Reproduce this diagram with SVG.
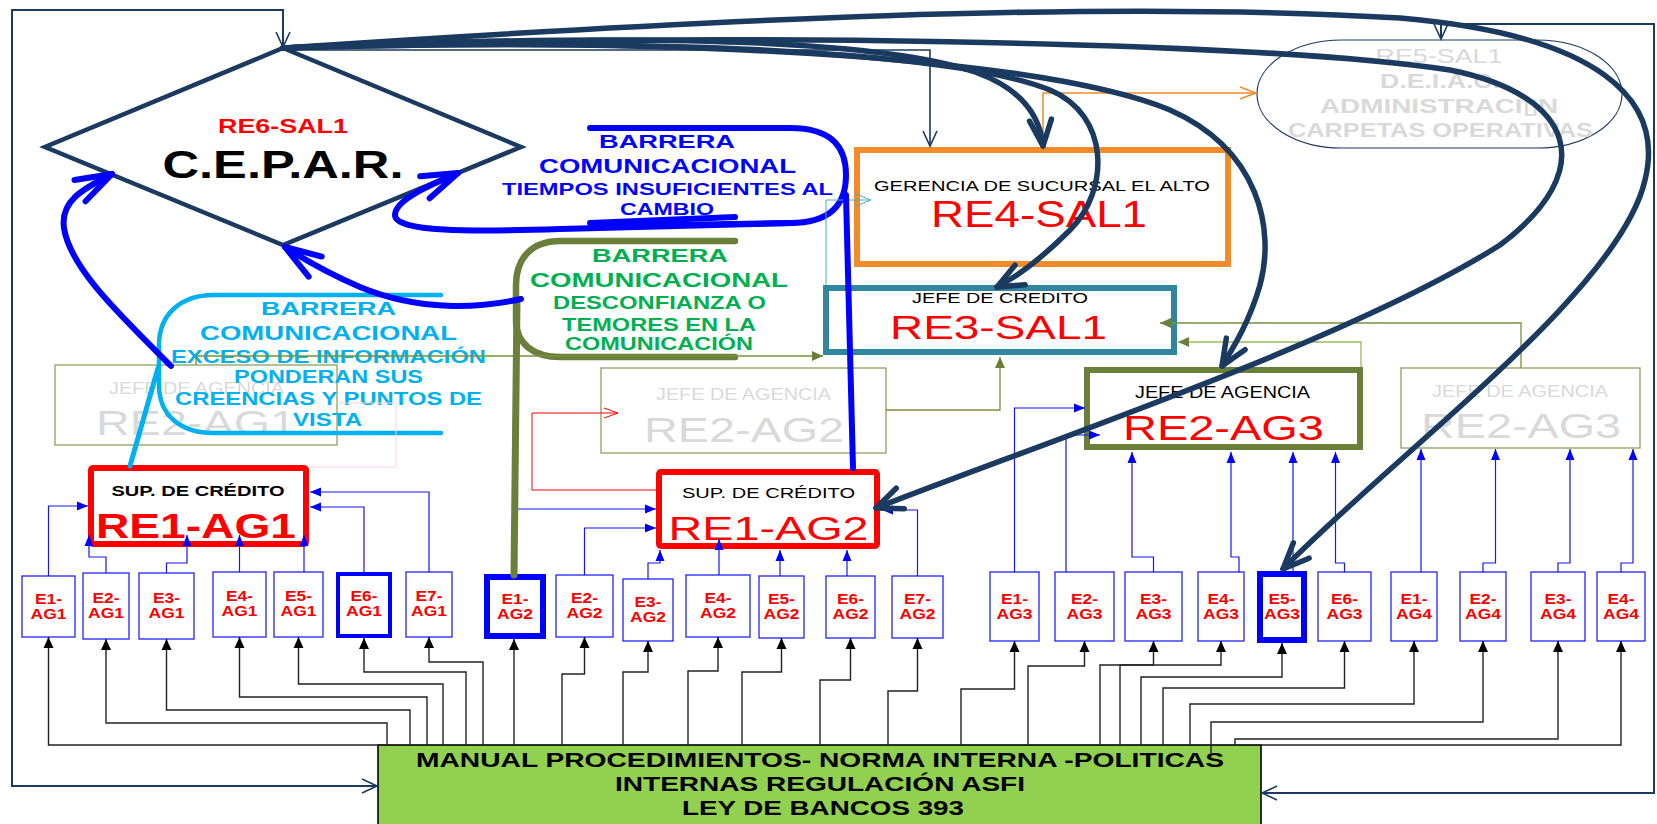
<svg xmlns="http://www.w3.org/2000/svg" width="1657" height="824" viewBox="0 0 1657 824">
<style>
  text { font-family: "Liberation Sans", Arial, sans-serif; text-anchor: middle; }
  .b { font-weight: bold; }
  .eb { fill: #fff; stroke: #2323ff; stroke-width: 1.3; }
  .et { font-size: 14px; font-weight: bold; fill: #ff0000; }
  .fade { fill: #fff; stroke: #8da35a; stroke-width: 1.3; }
  .ft { fill: #d9d9d9; }
  .k { fill: none; stroke: #222; stroke-width: 1.4; marker-end: url(#ak); }
  .bl { fill: none; stroke: #1515ff; stroke-width: 1.2; marker-end: url(#ab); }
  .ol { fill: none; stroke: #77933c; stroke-width: 1.3; marker-end: url(#ao); }
  .fr { fill: none; stroke: #1b3a5f; stroke-width: 2; marker-start: url(#av); marker-end: url(#av); }
  .nv { fill: none; stroke: #1b3a5f; stroke-width: 5.5; stroke-linecap: round; marker-end: url(#an); }
  .bc { fill: none; stroke: #0000ff; stroke-width: 6; stroke-linecap: round; marker-end: url(#abc); }
</style>
<defs>
  <marker id="an" markerUnits="userSpaceOnUse" markerWidth="10" markerHeight="10" orient="auto" overflow="visible">
    <path d="M-26,-11 L0,0 L-26,11" fill="none" stroke="#1b3a5f" stroke-width="5.5" stroke-linecap="round" stroke-linejoin="round"/>
  </marker>
  <marker id="abc" markerUnits="userSpaceOnUse" markerWidth="10" markerHeight="10" orient="auto" overflow="visible">
    <path d="M-36,-12 L0,0 L-36,12" fill="none" stroke="#0000ff" stroke-width="6" stroke-linecap="round" stroke-linejoin="round"/>
  </marker>
  <marker id="av" markerUnits="userSpaceOnUse" markerWidth="10" markerHeight="10" orient="auto-start-reverse" overflow="visible">
    <path d="M-15,-7 L0,0 L-15,7" fill="none" stroke="#1b3a5f" stroke-width="1.6"/>
  </marker>
  <marker id="ak" markerUnits="userSpaceOnUse" markerWidth="10" markerHeight="10" orient="auto" overflow="visible">
    <path d="M-11,-5 L0,0 L-11,5 Z" fill="#000"/>
  </marker>
  <marker id="ab" markerUnits="userSpaceOnUse" markerWidth="10" markerHeight="10" orient="auto" overflow="visible">
    <path d="M-11,-4.5 L0,0 L-11,4.5 Z" fill="#0000ff"/>
  </marker>
  <marker id="ao" markerUnits="userSpaceOnUse" markerWidth="10" markerHeight="10" orient="auto" overflow="visible">
    <path d="M-11,-5 L0,0 L-11,5 Z" fill="#6a7f3a"/>
  </marker>
  <marker id="ar" markerUnits="userSpaceOnUse" markerWidth="10" markerHeight="10" orient="auto" overflow="visible">
    <path d="M-14,-5 L0,0 L-14,5" fill="none" stroke="#ff0000" stroke-width="1"/>
  </marker>
  <marker id="aor" markerUnits="userSpaceOnUse" markerWidth="10" markerHeight="10" orient="auto" overflow="visible">
    <path d="M-16,-6 L0,0 L-16,6" fill="none" stroke="#f38b2b" stroke-width="1.5"/>
  </marker>
  <marker id="at" markerUnits="userSpaceOnUse" markerWidth="10" markerHeight="10" orient="auto" overflow="visible">
    <path d="M-15,-6 L0,0 L-15,6" fill="none" stroke="#4bacc6" stroke-width="1"/>
  </marker>
</defs>

<rect width="1657" height="824" fill="#fff"/>

<!-- base document -->
<g id="manual">
  <rect x="378" y="745" width="883" height="90" fill="#92d050" stroke="#000" stroke-width="1.6"/>
  <text class="b" x="820" y="767" font-size="19.5" textLength="808" lengthAdjust="spacingAndGlyphs">MANUAL PROCEDIMIENTOS- NORMA INTERNA -POLITICAS</text>
  <text class="b" x="820" y="790.5" font-size="19.5" textLength="410" lengthAdjust="spacingAndGlyphs">INTERNAS REGULACIÓN ASFI</text>
  <text class="b" x="823" y="815" font-size="19.5" textLength="282" lengthAdjust="spacingAndGlyphs">LEY DE BANCOS 393</text>
</g>

<!-- inactive agency heads -->
<g id="re2-ag1-faded">
  <rect class="fade" x="55" y="365" width="282" height="80"/>
  <text class="ft" x="196.5" y="394" font-size="16" textLength="175" lengthAdjust="spacingAndGlyphs">JEFE DE AGENCIA</text>
  <text class="ft" x="196" y="435" font-size="35" textLength="200" lengthAdjust="spacingAndGlyphs">RE2-AG1</text>
</g>
<g id="re2-ag2-faded">
  <rect class="fade" x="601" y="368" width="285" height="85"/>
  <text class="ft" x="743.5" y="400" font-size="16" textLength="175" lengthAdjust="spacingAndGlyphs">JEFE DE AGENCIA</text>
  <text class="ft" x="744" y="442" font-size="35" textLength="200" lengthAdjust="spacingAndGlyphs">RE2-AG2</text>
</g>
<g id="re2-ag4-faded">
  <rect class="fade" x="1401" y="368" width="239" height="80"/>
  <text class="ft" x="1520" y="397" font-size="16" textLength="176" lengthAdjust="spacingAndGlyphs">JEFE DE AGENCIA</text>
  <text class="ft" x="1521" y="438" font-size="35" textLength="200" lengthAdjust="spacingAndGlyphs">RE2-AG3</text>
</g>

<!-- management -->
<g id="re6-sal1">
  <polygon points="283,48 521,147 283,245 45,147" fill="#fff" stroke="#1b3a5f" stroke-width="4.5" stroke-linejoin="miter"/>
  <text class="b" x="283" y="133" font-size="21" fill="#ff0000" textLength="130" lengthAdjust="spacingAndGlyphs">RE6-SAL1</text>
  <text class="b" x="283" y="178" font-size="39" fill="#000" textLength="241" lengthAdjust="spacingAndGlyphs">C.E.P.A.R.</text>
</g>
<g id="re5-sal1">
  <rect x="1257" y="40" width="365" height="108" rx="85" ry="54" fill="#fff" stroke="#1b3a5f" stroke-width="1.2"/>
  <text class="ft" x="1439" y="62.5" font-size="20" textLength="127" lengthAdjust="spacingAndGlyphs">RE5-SAL1</text>
  <text class="ft b" x="1440" y="88" font-size="20" textLength="120" lengthAdjust="spacingAndGlyphs">D.E.I.A.C.</text>
  <text class="ft b" x="1439" y="112.5" font-size="20" textLength="238" lengthAdjust="spacingAndGlyphs">ADMINISTRACI&#x25AF;N</text>
  <text class="ft b" x="1440.5" y="137" font-size="20" textLength="305" lengthAdjust="spacingAndGlyphs">CARPETAS OPERATIVAS</text>
</g>
<g id="re4-sal1">
  <rect x="857" y="150" width="371" height="114" fill="#fff" stroke="#f38b2b" stroke-width="6"/>
  <text x="1042" y="190.5" font-size="15" fill="#000" textLength="336" lengthAdjust="spacingAndGlyphs">GERENCIA DE SUCURSAL EL ALTO</text>
  <text x="1039" y="226.5" font-size="36" fill="#ff0000" textLength="216" lengthAdjust="spacingAndGlyphs">RE4-SAL1</text>
</g>
<g id="re3-sal1">
  <rect x="826" y="288" width="348" height="64" fill="#fff" stroke="#31859c" stroke-width="6"/>
  <text x="1000" y="303" font-size="15" fill="#000" textLength="176" lengthAdjust="spacingAndGlyphs">JEFE DE CREDITO</text>
  <text x="998.5" y="339" font-size="34" fill="#ff0000" textLength="217" lengthAdjust="spacingAndGlyphs">RE3-SAL1</text>
</g>
<g id="re2-ag3">
  <rect x="1087" y="370" width="273" height="77" fill="#fff" stroke="#6a7f3a" stroke-width="6"/>
  <text x="1222.5" y="398" font-size="16" fill="#000" textLength="175" lengthAdjust="spacingAndGlyphs">JEFE DE AGENCIA</text>
  <text x="1223.5" y="440" font-size="35" fill="#ff0000" textLength="201" lengthAdjust="spacingAndGlyphs">RE2-AG3</text>
</g>
<g id="re1-ag1">
  <rect x="91" y="468" width="215" height="76" rx="2" fill="#fff" stroke="#ff0000" stroke-width="6"/>
  <text class="b" x="198" y="495.5" font-size="15" fill="#000" textLength="173" lengthAdjust="spacingAndGlyphs">SUP. DE CRÉDITO</text>
  <text class="b" x="196" y="538" font-size="35" fill="#ff0000" textLength="200" lengthAdjust="spacingAndGlyphs">RE1-AG1</text>
</g>
<g id="re1-ag2">
  <rect x="659" y="472" width="218" height="74" rx="2" fill="#fff" stroke="#ff0000" stroke-width="6"/>
  <text x="768.5" y="498" font-size="15" fill="#000" textLength="173" lengthAdjust="spacingAndGlyphs">SUP. DE CRÉDITO</text>
  <text x="768.5" y="540" font-size="33" fill="#ff0000" textLength="200" lengthAdjust="spacingAndGlyphs">RE1-AG2</text>
</g>

<!-- staff, agency 1 -->
<g id="e1-ag1"><rect class="eb" x="22" y="576" width="53" height="61"/><text class="et" x="48.5" y="603.5" textLength="27" lengthAdjust="spacingAndGlyphs">E1-</text><text class="et" x="48.5" y="618.5" textLength="36" lengthAdjust="spacingAndGlyphs">AG1</text></g>
<g id="e2-ag1"><rect class="eb" x="83" y="573" width="46" height="66"/><text class="et" x="106" y="603" textLength="27" lengthAdjust="spacingAndGlyphs">E2-</text><text class="et" x="106" y="618" textLength="36" lengthAdjust="spacingAndGlyphs">AG1</text></g>
<g id="e3-ag1"><rect class="eb" x="139" y="573" width="55" height="66"/><text class="et" x="166.5" y="603" textLength="27" lengthAdjust="spacingAndGlyphs">E3-</text><text class="et" x="166.5" y="618" textLength="36" lengthAdjust="spacingAndGlyphs">AG1</text></g>
<g id="e4-ag1"><rect class="eb" x="213" y="572" width="53" height="65"/><text class="et" x="239.5" y="601" textLength="27" lengthAdjust="spacingAndGlyphs">E4-</text><text class="et" x="239.5" y="616" textLength="36" lengthAdjust="spacingAndGlyphs">AG1</text></g>
<g id="e5-ag1"><rect class="eb" x="274" y="572" width="49" height="65"/><text class="et" x="298.5" y="601" textLength="27" lengthAdjust="spacingAndGlyphs">E5-</text><text class="et" x="298.5" y="616" textLength="36" lengthAdjust="spacingAndGlyphs">AG1</text></g>
<g id="e6-ag1"><rect class="eb" x="338" y="574" width="52" height="62" style="stroke-width:4;stroke:#0000ff"/><text class="et" x="364" y="601" textLength="27" lengthAdjust="spacingAndGlyphs">E6-</text><text class="et" x="364" y="616" textLength="36" lengthAdjust="spacingAndGlyphs">AG1</text></g>
<g id="e7-ag1"><rect class="eb" x="406" y="572" width="46" height="65"/><text class="et" x="429" y="601" textLength="27" lengthAdjust="spacingAndGlyphs">E7-</text><text class="et" x="429" y="616" textLength="36" lengthAdjust="spacingAndGlyphs">AG1</text></g>

<!-- staff, agency 2 -->
<g id="e1-ag2"><rect class="eb" x="487" y="577" width="56" height="59" style="stroke-width:6;stroke:#0000ff"/><text class="et" x="515" y="603.5" textLength="27" lengthAdjust="spacingAndGlyphs">E1-</text><text class="et" x="515" y="618.5" textLength="36" lengthAdjust="spacingAndGlyphs">AG2</text></g>
<g id="e2-ag2"><rect class="eb" x="556" y="575" width="57" height="62"/><text class="et" x="584.5" y="603" textLength="27" lengthAdjust="spacingAndGlyphs">E2-</text><text class="et" x="584.5" y="618" textLength="36" lengthAdjust="spacingAndGlyphs">AG2</text></g>
<g id="e3-ag2"><rect class="eb" x="623" y="579" width="50" height="62"/><text class="et" x="648" y="607" textLength="27" lengthAdjust="spacingAndGlyphs">E3-</text><text class="et" x="648" y="622" textLength="36" lengthAdjust="spacingAndGlyphs">AG2</text></g>
<g id="e4-ag2"><rect class="eb" x="686" y="575" width="64" height="62"/><text class="et" x="718" y="603" textLength="27" lengthAdjust="spacingAndGlyphs">E4-</text><text class="et" x="718" y="618" textLength="36" lengthAdjust="spacingAndGlyphs">AG2</text></g>
<g id="e5-ag2"><rect class="eb" x="759" y="576" width="45" height="62"/><text class="et" x="781.5" y="604" textLength="27" lengthAdjust="spacingAndGlyphs">E5-</text><text class="et" x="781.5" y="619" textLength="36" lengthAdjust="spacingAndGlyphs">AG2</text></g>
<g id="e6-ag2"><rect class="eb" x="826" y="576" width="49" height="62"/><text class="et" x="850.5" y="604" textLength="27" lengthAdjust="spacingAndGlyphs">E6-</text><text class="et" x="850.5" y="619" textLength="36" lengthAdjust="spacingAndGlyphs">AG2</text></g>
<g id="e7-ag2"><rect class="eb" x="892" y="576" width="51" height="62"/><text class="et" x="917.5" y="604" textLength="27" lengthAdjust="spacingAndGlyphs">E7-</text><text class="et" x="917.5" y="619" textLength="36" lengthAdjust="spacingAndGlyphs">AG2</text></g>

<!-- staff, agency 3 -->
<g id="e1-ag3"><rect class="eb" x="990" y="572" width="49" height="69"/><text class="et" x="1014.5" y="603.5" textLength="27" lengthAdjust="spacingAndGlyphs">E1-</text><text class="et" x="1014.5" y="618.5" textLength="36" lengthAdjust="spacingAndGlyphs">AG3</text></g>
<g id="e2-ag3"><rect class="eb" x="1055" y="572" width="59" height="69"/><text class="et" x="1084.5" y="603.5" textLength="27" lengthAdjust="spacingAndGlyphs">E2-</text><text class="et" x="1084.5" y="618.5" textLength="36" lengthAdjust="spacingAndGlyphs">AG3</text></g>
<g id="e3-ag3"><rect class="eb" x="1125" y="572" width="57" height="69"/><text class="et" x="1153.5" y="603.5" textLength="27" lengthAdjust="spacingAndGlyphs">E3-</text><text class="et" x="1153.5" y="618.5" textLength="36" lengthAdjust="spacingAndGlyphs">AG3</text></g>
<g id="e4-ag3"><rect class="eb" x="1198" y="572" width="46" height="69"/><text class="et" x="1221" y="603.5" textLength="27" lengthAdjust="spacingAndGlyphs">E4-</text><text class="et" x="1221" y="618.5" textLength="36" lengthAdjust="spacingAndGlyphs">AG3</text></g>
<g id="e5-ag3"><rect class="eb" x="1260" y="574" width="44" height="66" style="stroke-width:6;stroke:#0000ff"/><text class="et" x="1282" y="603.5" textLength="27" lengthAdjust="spacingAndGlyphs">E5-</text><text class="et" x="1282" y="618.5" textLength="36" lengthAdjust="spacingAndGlyphs">AG3</text></g>
<g id="e6-ag3"><rect class="eb" x="1318" y="572" width="53" height="69"/><text class="et" x="1344.5" y="603.5" textLength="27" lengthAdjust="spacingAndGlyphs">E6-</text><text class="et" x="1344.5" y="618.5" textLength="36" lengthAdjust="spacingAndGlyphs">AG3</text></g>

<!-- staff, agency 4 -->
<g id="e1-ag4"><rect class="eb" x="1391" y="572" width="46" height="69"/><text class="et" x="1414" y="603.5" textLength="27" lengthAdjust="spacingAndGlyphs">E1-</text><text class="et" x="1414" y="618.5" textLength="36" lengthAdjust="spacingAndGlyphs">AG4</text></g>
<g id="e2-ag4"><rect class="eb" x="1460" y="572" width="46" height="69"/><text class="et" x="1483" y="603.5" textLength="27" lengthAdjust="spacingAndGlyphs">E2-</text><text class="et" x="1483" y="618.5" textLength="36" lengthAdjust="spacingAndGlyphs">AG4</text></g>
<g id="e3-ag4"><rect class="eb" x="1531" y="572" width="54" height="69"/><text class="et" x="1558" y="603.5" textLength="27" lengthAdjust="spacingAndGlyphs">E3-</text><text class="et" x="1558" y="618.5" textLength="36" lengthAdjust="spacingAndGlyphs">AG4</text></g>
<g id="e4-ag4"><rect class="eb" x="1597" y="572" width="48" height="69"/><text class="et" x="1621" y="603.5" textLength="27" lengthAdjust="spacingAndGlyphs">E4-</text><text class="et" x="1621" y="618.5" textLength="36" lengthAdjust="spacingAndGlyphs">AG4</text></g>

<!-- communication barrier callouts -->
<g id="barrier-time">
  <path d="M590,128 H790 C835,128 846,150 846,175 C846,205 830,223 790,223 L600,226" fill="none" stroke="#0000ff" stroke-width="6" stroke-linecap="round"/>
  <path d="M590,223 L735,217" fill="none" stroke="#0000ff" stroke-width="6" stroke-linecap="round"/>
  <text class="b" x="667" y="148" font-size="19" fill="#0000ff" textLength="136" lengthAdjust="spacingAndGlyphs">BARRERA</text>
  <text class="b" x="667.5" y="173" font-size="19.5" fill="#0000ff" textLength="257" lengthAdjust="spacingAndGlyphs">COMUNICACIONAL</text>
  <text class="b" x="667.5" y="195" font-size="17" fill="#0000ff" textLength="331" lengthAdjust="spacingAndGlyphs">TIEMPOS INSUFICIENTES AL</text>
  <text class="b" x="667" y="215" font-size="17" fill="#0000ff" textLength="94" lengthAdjust="spacingAndGlyphs">CAMBIO</text>
</g>
<g id="barrier-trust">
  <path d="M735,241 H560 C530,241 516,260 516,285 V320 C516,345 535,357 560,357 H735" fill="none" stroke="#6a7f3a" stroke-width="6.5" stroke-linecap="round"/>
  <text class="b" x="660" y="261.5" font-size="19" fill="#00b050" textLength="136" lengthAdjust="spacingAndGlyphs">BARRERA</text>
  <text class="b" x="659" y="286.5" font-size="19.5" fill="#00b050" textLength="258" lengthAdjust="spacingAndGlyphs">COMUNICACIONAL</text>
  <text class="b" x="659.5" y="309" font-size="17.5" fill="#00b050" textLength="213" lengthAdjust="spacingAndGlyphs">DESCONFIANZA O</text>
  <text class="b" x="659" y="330.5" font-size="17.5" fill="#00b050" textLength="194" lengthAdjust="spacingAndGlyphs">TEMORES EN LA</text>
  <text class="b" x="659" y="350" font-size="17.5" fill="#00b050" textLength="188" lengthAdjust="spacingAndGlyphs">COMUNICACIÓN</text>
</g>
<g id="barrier-overload">
  <path d="M441,295 H214 C180,295 159,315 159,345 V385 C159,415 180,433 214,433 H441" fill="none" stroke="#00b0f0" stroke-width="4.5" stroke-linecap="round"/>
  <text class="b" x="328.5" y="315" font-size="19" fill="#00b0f0" textLength="135" lengthAdjust="spacingAndGlyphs">BARRERA</text>
  <text class="b" x="328.5" y="340" font-size="20" fill="#00b0f0" textLength="257" lengthAdjust="spacingAndGlyphs">COMUNICACIONAL</text>
  <text class="b" x="328.5" y="362.5" font-size="17.5" fill="#00b0f0" textLength="315" lengthAdjust="spacingAndGlyphs">EXCESO DE INFORMACIÓN</text>
  <text class="b" x="328.5" y="383" font-size="17.5" fill="#00b0f0" textLength="189" lengthAdjust="spacingAndGlyphs">PONDERAN SUS</text>
  <text class="b" x="328.5" y="405" font-size="17.5" fill="#00b0f0" textLength="307" lengthAdjust="spacingAndGlyphs">CREENCIAS Y PUNTOS DE</text>
  <text class="b" x="327.5" y="426" font-size="17.5" fill="#00b0f0" textLength="69" lengthAdjust="spacingAndGlyphs">VISTA</text>
</g>

<g id="connectors">
  <!-- document to staff -->
  <path class="k" d="M390,745 H48.5 V637"/>
  <path class="k" d="M387,745 V723 H106 V639"/>
  <path class="k" d="M410,745 V710 H166.5 V639"/>
  <path class="k" d="M427,745 V697 H239.5 V637"/>
  <path class="k" d="M443,745 V684 H298.5 V637"/>
  <path class="k" d="M466,745 V672 H364 V638"/>
  <path class="k" d="M483,745 V662 H429 V637"/>
  <path class="k" d="M514,745 V639"/>
  <path class="k" d="M562,745 V674 H584.5 V637"/>
  <path class="k" d="M623,745 V672 H648 V641"/>
  <path class="k" d="M688,745 V671 H718 V637"/>
  <path class="k" d="M742,745 V672 H781.5 V638"/>
  <path class="k" d="M820,745 V680 H850.5 V638"/>
  <path class="k" d="M888,745 V691 H917.5 V638"/>
  <path class="k" d="M961,745 V689 H1014.5 V641"/>
  <path class="k" d="M1028,745 V666 H1084.5 V641"/>
  <path class="k" d="M1100,745 V665 H1153.5 V641"/>
  <path class="k" d="M1120,745 V665 H1221 V641"/>
  <path class="k" d="M1141,745 V677 H1282 V643"/>
  <path class="k" d="M1163,745 V688 H1344.5 V641"/>
  <path class="k" d="M1190,745 V704 H1414 V641"/>
  <path class="k" d="M1211,753 V722 H1483 V641"/>
  <path class="k" d="M1235,745 V739 H1558 V641"/>
  <path class="k" d="M1261,745 H1621 V641"/>

  <!-- staff to supervisors / agency heads -->
  <path class="bl" d="M48.5,576 V506 H88"/>
  <path class="bl" d="M106,573 V557 H89 V535"/>
  <path class="bl" d="M166.5,573 V563 H187 V535"/>
  <path class="bl" d="M239.5,572 V535"/>
  <path class="bl" d="M304,572 V535"/>
  <path class="bl" d="M364,572 V507 H310"/>
  <path class="bl" d="M429,572 V492 H310"/>
  <path class="bl" d="M516,574 V509 H656"/>
  <path class="bl" d="M584.5,575 V528 H656"/>
  <path class="bl" d="M648,579 V563 H660 V550"/>
  <path class="bl" d="M719,575 V539"/>
  <path class="bl" d="M780,576 V550"/>
  <path class="bl" d="M847,576 V550"/>
  <path class="bl" d="M917.5,576 V510 H882"/>
  <path class="bl" d="M1014.5,572 V408 H1085"/>
  <path class="bl" d="M1066,572 V435 H1100"/>
  <path class="bl" d="M1153.5,572 V557 H1132 V452"/>
  <path class="bl" d="M1239,572 V557 H1231 V452"/>
  <path class="bl" d="M1293,571 V452"/>
  <path class="bl" d="M1344.5,572 V563 H1335.5 V452"/>
  <path class="bl" d="M1421,572 V449"/>
  <path class="bl" d="M1483,572 V563 H1495.5 V449"/>
  <path class="bl" d="M1558,572 V563 H1570 V449"/>
  <path class="bl" d="M1621,572 V563 H1633 V449"/>

  <!-- agency heads to credit head -->
  <path class="ol" d="M1361,367 V342 H1178" style="stroke:#9bbb59"/>
  <path class="ol" d="M1521,368 V323 H1160"/>
  <path class="ol" d="M886,410 H1000 V357"/>
  <path class="ol" d="M196,365 V356 H823"/>

  <path d="M337,403 H396 V467 H311" fill="none" stroke="#ffd3d3" stroke-width="1"/>
  <path d="M657,490 H532 V413 H618" fill="none" stroke="#ff0000" stroke-width="1" marker-end="url(#ar)"/>
  <path d="M826,285 V200 H871" fill="none" stroke="#4bacc6" stroke-width="1" marker-end="url(#at)"/>
  <path d="M1043,147 V93 H1256" fill="none" stroke="#f38b2b" stroke-width="1.5" marker-end="url(#aor)"/>
  <path d="M283,50 H930 V146" fill="none" stroke="#1b3a5f" stroke-width="1.6" marker-end="url(#av)"/>

  <!-- outer feedback loops -->
  <path class="fr" d="M283,47 V10 H12 V786 H377"/>
  <path class="fr" d="M1441,39 V24 H1654 V793 H1262"/>

  <!-- callout tails -->
  <path d="M846,195 L853,468" fill="none" stroke="#0000ff" stroke-width="6" stroke-linecap="round"/>
  <path d="M517,300 L514,575" fill="none" stroke="#6a7f3a" stroke-width="7" stroke-linecap="round"/>
  <path d="M158,368 L130,466" fill="none" stroke="#00b0f0" stroke-width="5" stroke-linecap="round"/>

  <!-- barrier feedback to the committee -->
  <path class="bc" d="M171,366 C120,315 70,268 64,228 C60,200 85,188 112,174"/>
  <path class="bc" d="M793,223 L560,229 C470,232 395,232 395,215 C395,200 430,185 458,173"/>
  <path class="bc" d="M521,299 C480,308 420,312 360,287 C325,272 305,260 285,247"/>

  <!-- committee directives -->
  <path class="nv" d="M283,48 C700,20 1100,0 1400,18 C1600,35 1665,100 1645,180 C1620,290 1400,450 1283,569"/>
  <path class="nv" d="M283,48 C700,32 1250,40 1450,70 C1575,95 1600,170 1500,245 C1350,340 1050,440 876,508"/>
  <path class="nv" d="M283,48 C700,35 1050,60 1170,110 C1260,150 1275,230 1260,285 C1250,320 1235,345 1222,366"/>
  <path class="nv" d="M283,48 C650,32 880,40 975,72 C1020,88 1040,115 1043,146"/>
  <path class="nv" d="M283,48 C650,38 950,50 1050,90 C1110,115 1110,190 1070,230 C1045,255 1020,275 997,287"/>
</g>
</svg>
